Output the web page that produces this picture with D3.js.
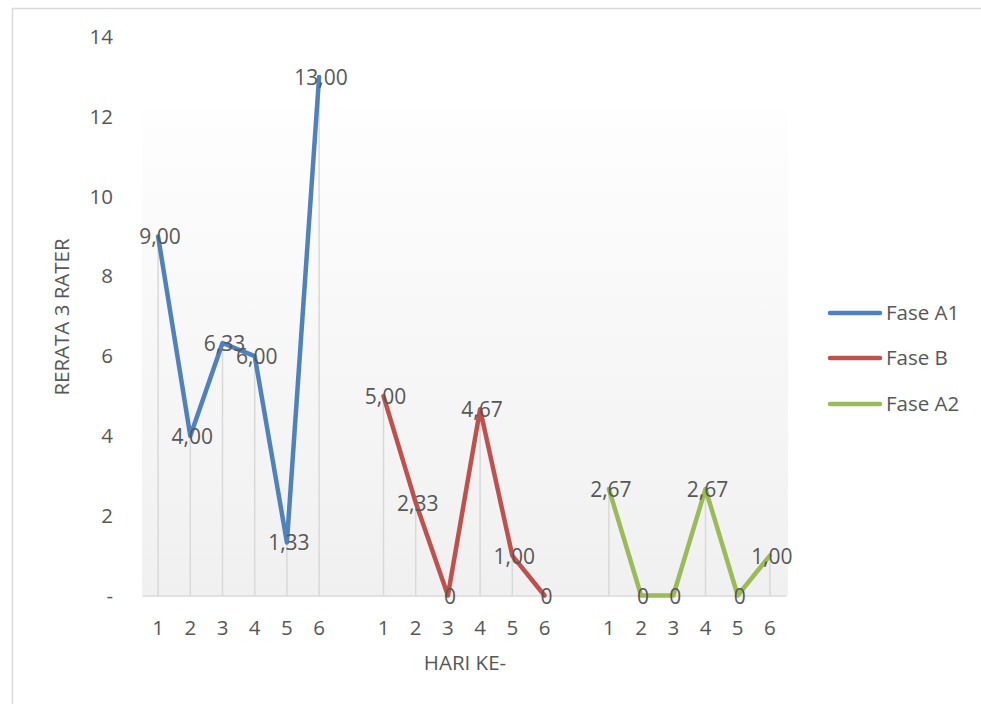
<!DOCTYPE html>
<html>
<head>
<meta charset="utf-8">
<script src="https://cdn.jsdelivr.net/npm/d3@7"></script>
<style>
  html, body { margin: 0; padding: 0; background: #fff; }
  svg { display: block; }
  text { font-family: "Open Sans", "Noto Sans", sans-serif; fill: #575757; }
</style>
</head>
<body>
<svg id="chart" width="981" height="704"></svg>
<script>
// Day labels along the x axis; empty slots separate the three phases
const categories = ["1","2","3","4","5","6","", "1","2","3","4","5","6","", "1","2","3","4","5","6"];

// Mean score of the three raters per day
const faseA1 = [9.00, 4.00, 6.33, 6.00, 1.33, 13.00];
const faseB  = [5.00, 2.33, 0, 4.67, 1.00, 0];
const faseA2 = [2.67, 0, 0, 2.67, 0, 1.00];

const seriesNames = ["Fase A1", "Fase B", "Fase A2"];
const seriesStart = [0, 7, 14];          // first category slot of each phase
const seriesColors = ["#4f81bd", "#c0504d", "#9bbb59"];
const yTicks = [0, 2, 4, 6, 8, 10, 12, 14];

const seriesValues = [faseA1, faseB, faseA2];
const series = seriesNames.map((name, i) => ({
  name,
  color: seriesColors[i],
  points: seriesValues[i].map((v, j) => ({ slot: seriesStart[i] + j, value: v }))
}));

const svg = d3.select("#chart");

// outer chart frame
svg.append("rect")
  .attr("x", 12.5).attr("y", 8.5).attr("width", 1100).attr("height", 1100)
  .attr("fill", "#fff").attr("stroke", "#d9d9d9").attr("stroke-width", 1.5);

const plot = { left: 142, right: 786, top: 37, bottom: 595.5 };

const x = d3.scaleBand()
  .domain(d3.range(categories.length))
  .range([plot.left, plot.right]);
const cx = i => x(i) + x.bandwidth() / 2;

const y = d3.scaleLinear().domain([0, 14]).range([plot.bottom, plot.top]);

// soft vertical gradient behind the plot
const defs = svg.append("defs");
const grad = defs.append("linearGradient")
  .attr("id", "plotFill").attr("x1", 0).attr("y1", 0).attr("x2", 0).attr("y2", 1);
grad.append("stop").attr("offset", 0).attr("stop-color", "#fefefe");
grad.append("stop").attr("offset", 1).attr("stop-color", "#f0f0f0");

svg.append("rect")
  .attr("x", plot.left).attr("y", 108)
  .attr("width", plot.right + 2 - plot.left).attr("height", plot.bottom - 108)
  .attr("fill", "url(#plotFill)");

// y axis (no line, "-" for zero)
const yAxis = d3.axisLeft(y)
  .tickValues(yTicks)
  .tickSize(0)
  .tickPadding(0)
  .tickFormat(d => d === 0 ? "-" : d);
const gy = svg.append("g")
  .attr("transform", `translate(113,0)`)
  .call(yAxis);
gy.select(".domain").remove();
gy.selectAll("text")
  .attr("font-size", 20.5).attr("fill", "#575757")
  .style("font-family", '"Open Sans", sans-serif');

// drop lines from each point to the baseline
series.forEach(s => {
  svg.append("g").selectAll("line")
    .data(s.points.filter(p => p.value > 0))
    .join("line")
    .attr("x1", p => cx(p.slot)).attr("x2", p => cx(p.slot))
    .attr("y1", p => y(p.value)).attr("y2", y(0))
    .attr("stroke", "#d9d9d9").attr("stroke-width", 1.5);
});

// x axis baseline and day labels
const xAxis = d3.axisBottom(x)
  .tickSize(0)
  .tickPadding(0)
  .tickFormat(i => categories[i]);
const gx = svg.append("g")
  .attr("transform", `translate(0,${y(0)})`)
  .call(xAxis);
gx.select(".domain")
  .attr("stroke", "#d9d9d9").attr("stroke-width", 1.5);
gx.selectAll("text")
  .attr("font-size", 20.5).attr("fill", "#575757")
  .attr("dy", 0).attr("y", 39)
  .style("font-family", '"Open Sans", sans-serif');

// series lines
const line = d3.line()
  .x(p => cx(p.slot))
  .y(p => y(p.value));

series.forEach(s => {
  svg.append("path")
    .datum(s.points)
    .attr("d", line)
    .attr("fill", "none")
    .attr("stroke", s.color)
    .attr("stroke-width", 4.5)
    .attr("stroke-linejoin", "round")
    .attr("stroke-linecap", "round");
});

// value labels centred on each point
const fmt = v => v === 0 ? "0" : v.toFixed(2).replace(".", ",");
series.forEach(s => {
  svg.append("g").selectAll("text")
    .data(s.points)
    .join("text")
    .attr("x", p => cx(p.slot) + 2)
    .attr("y", p => y(p.value) + 8)
    .attr("text-anchor", "middle")
    .attr("font-size", 21)
    .text(p => fmt(p.value));
});

// axis titles
svg.append("text")
  .attr("transform", `translate(69,317) rotate(-90)`)
  .attr("text-anchor", "middle")
  .attr("font-size", 20.5)
  .text("RERATA 3 RATER");

svg.append("text")
  .attr("x", 465).attr("y", 670)
  .attr("text-anchor", "middle")
  .attr("font-size", 20.5)
  .text("HARI KE-");

// legend
const legend = svg.append("g");
const legendY = [313, 358, 404];
series.forEach((s, i) => {
  legend.append("line")
    .attr("x1", 830).attr("x2", 880)
    .attr("y1", legendY[i]).attr("y2", legendY[i])
    .attr("stroke", s.color).attr("stroke-width", 4.5)
    .attr("stroke-linecap", "round");
  legend.append("text")
    .attr("x", 886).attr("y", legendY[i] + 7)
    .attr("font-size", 20.5)
    .text(s.name);
});
</script>
</body>
</html>
